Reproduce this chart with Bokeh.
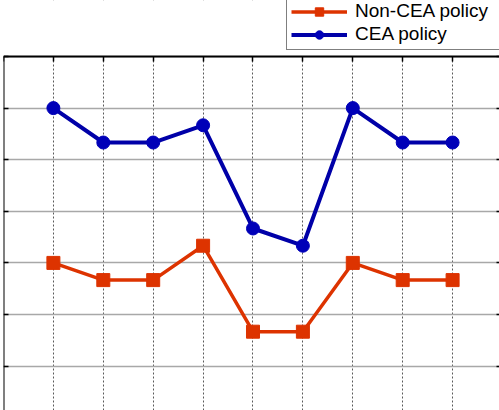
from bokeh.plotting import figure
from bokeh.models import (LinearAxis, FixedTicker, Legend, LegendItem,
                          BoxAnnotation)
from bokeh.embed import file_html
from bokeh.resources import INLINE

# Scenario index along the x axis
scenario = [1, 2, 3, 4, 5, 6, 7, 8, 9]
# Outcome per scenario for each policy
non_cea = [3.0, 2.667, 2.667, 3.333, 1.667, 1.667, 3.0, 2.667, 2.667]
cea = [6.0, 5.333, 5.333, 5.667, 3.667, 3.333, 6.0, 5.333, 5.333]

x_ticks = list(range(0, 11))
y_ticks = list(range(0, 8))

# Axes box: x from 0, y up to 7; the view runs a little past both
X_MIN, X_MAX = 0, 9.94
Y_MIN, Y_TOP, Y_MAX = 0.14, 7, 8.085

RED = "#dd3300"
BLUE = "#0000a8"

p = figure(width=499, height=410, output_backend="svg", toolbar_location=None,
           x_range=(X_MIN, X_MAX), y_range=(Y_MIN, Y_MAX),
           x_axis_location=None, y_axis_location=None,
           min_border_left=3, min_border_top=0, min_border_right=0,
           min_border_bottom=0, outline_line_color=None,
           background_fill_color="white", border_fill_color="white")

def make_axis(ticks, loc, bounds, tick_in=5, line=True):
    ax = LinearAxis(ticker=FixedTicker(ticks=ticks), fixed_location=loc,
                    bounds=bounds)
    ax.major_label_overrides = {t: "" for t in ticks}
    ax.major_label_standoff = 0
    ax.major_tick_out = 0
    ax.major_tick_in = tick_in
    ax.minor_tick_in = 0
    ax.minor_tick_out = 0
    ax.major_tick_line_color = "black"
    ax.major_tick_line_width = 1.5
    if line:
        ax.axis_line_color = "black"
        ax.axis_line_width = 2
    else:
        ax.axis_line_color = None
    return ax

p.xgrid.ticker = FixedTicker(ticks=x_ticks)
p.xgrid.grid_line_color = "#5a5a5a"
p.xgrid.grid_line_dash = "2 2"
p.xgrid.grid_line_width = 1
p.ygrid.ticker = FixedTicker(ticks=y_ticks)
p.ygrid.grid_line_color = "#a8a8a8"
p.ygrid.grid_line_width = 1.5

# blank the area above the axes box
p.add_layout(BoxAnnotation(bottom=Y_TOP, fill_color="white", fill_alpha=1,
                           line_color=None, level="underlay"))

p.add_layout(make_axis(x_ticks, Y_TOP, (X_MIN, X_MAX)), "above")
p.add_layout(make_axis(y_ticks, X_MIN, (Y_MIN, Y_TOP)), "left")
p.add_layout(make_axis(y_ticks, X_MAX, (Y_MIN, Y_TOP), tick_in=3,
                       line=False), "right")

r_line = p.line(scenario, non_cea, line_color=RED, line_width=3.5)
r_mark = p.scatter(scenario, non_cea, marker="square", size=13,
                   fill_color=RED, line_color=RED)
b_line = p.line(scenario, cea, line_color=BLUE, line_width=4)
b_mark = p.scatter(scenario, cea, marker="circle", size=13,
                   fill_color="#0000b8", line_color="#0000b8")

legend = Legend(items=[
    LegendItem(label="Non-CEA policy", renderers=[r_line, r_mark]),
    LegendItem(label="CEA policy", renderers=[b_line, b_mark]),
], location=(283, 360))
legend.label_text_font = "Liberation Sans"
legend.label_text_font_size = "19px"
legend.label_text_color = "black"
legend.label_height = 21
legend.glyph_height = 21
legend.glyph_width = 56
legend.label_width = 150
legend.label_standoff = 8
legend.spacing = 1
legend.padding = 4
legend.margin = 0
legend.border_line_color = "black"
legend.border_line_width = 1.5
legend.background_fill_color = "white"
legend.background_fill_alpha = 1
p.add_layout(legend, "center")

open("out.html", "w").write(file_html(p, INLINE))
